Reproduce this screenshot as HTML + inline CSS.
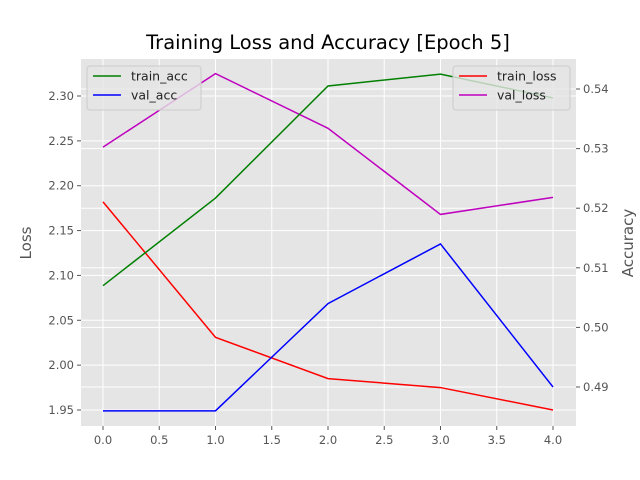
<!DOCTYPE html>
<html><head><meta charset="utf-8"><style>
body{margin:0;background:#fff;}
svg{display:block;font-family:"DejaVu Sans","Liberation Sans",sans-serif;}
</style></head><body>
<svg id="chart" width="640" height="480"></svg>
<script>
const epochs=[0,1,2,3,4];
const trainLoss=[2.182,2.031,1.985,1.975,1.95];
const valLoss=[2.243,2.325,2.264,2.168,2.187];
const trainAcc=[0.507,0.5217,0.5405,0.5425,0.5385];
const valAcc=[0.486,0.486,0.504,0.514,0.490];
const xTicks=[0,0.5,1,1.5,2,2.5,3,3.5,4];
const yLTicks=[1.95,2.0,2.05,2.1,2.15,2.2,2.25,2.3];
const yRTicks=[0.49,0.50,0.51,0.52,0.53,0.54];

const L=81,R=576,T=59,B=426;
const xs=v=>103+(v-0)*(553-103)/4;
const yl=v=>410-(v-1.95)*(410-96)/0.35;
const yr=v=>387-(v-0.49)*(387-89)/0.05;
const svg=document.getElementById('chart');
const NS='http://www.w3.org/2000/svg';
function mk(t,a,p){const e=document.createElementNS(NS,t);for(const k in a)e.setAttribute(k,a[k]);(p||svg).appendChild(e);return e;}

const bg=mk('rect',{x:L,y:T,width:R-L,height:B-T,fill:'#e5e5e5'});


xTicks.forEach(v=>{
  const g=mk('line',{x1:xs(v),x2:xs(v),y1:T,y2:B,stroke:'#fff','stroke-width':1});
  
  
  mk('line',{x1:xs(v),x2:xs(v),y1:B,y2:B+4,stroke:'#555'});
  const t=mk('text',{x:xs(v),y:B+18,'text-anchor':'middle','font-size':11.5,fill:'#555'});
  t.textContent=v.toFixed(1);
  
  
});
yLTicks.forEach(v=>{
  const g=mk('line',{x1:L,x2:R,y1:yl(v),y2:yl(v),stroke:'#fff','stroke-width':1});
  
  
  mk('line',{x1:L-4,x2:L,y1:yl(v),y2:yl(v),stroke:'#555'});
  const t=mk('text',{x:L-7,y:yl(v)+4,'text-anchor':'end','font-size':11.5,fill:'#555'});
  t.textContent=v.toFixed(2);
  
  
});
yRTicks.forEach(v=>{
  const g=mk('line',{x1:L,x2:R,y1:yr(v),y2:yr(v),stroke:'#fff','stroke-width':1});
  
  
  mk('line',{x1:R,x2:R+4,y1:yr(v),y2:yr(v),stroke:'#555'});
  const t=mk('text',{x:R+7,y:yr(v)+4,'text-anchor':'start','font-size':11.5,fill:'#555'});
  t.textContent=v.toFixed(2);
  
  
});
function line(vals,sc,color,name){
  const p=mk('polyline',{points:epochs.map((e,i)=>xs(e)+','+sc(vals[i])).join(' '),fill:'none',stroke:color,'stroke-width':1.5});
  
  
}
line(trainLoss,yl,'#ff0000','train-loss-line');
line(valLoss,yl,'#bf00bf','val-loss-line');
line(trainAcc,yr,'#008000','train-acc-line');
line(valAcc,yr,'#0000ff','val-acc-line');

function legend(x,y,w,items,name){
  const g=mk('g',{});
  
  
  mk('rect',{x:x,y:y,width:w,height:44,rx:3,fill:'#e5e5e5',stroke:'#ccc','fill-opacity':0.8},g);
  items.forEach((it,i)=>{
    const yy=y+10+i*19;
    mk('line',{x1:x+6,x2:x+34,y1:yy,y2:yy,stroke:it[1],'stroke-width':1.5},g);
    const t=mk('text',{x:x+44,y:yy+4.5,'font-size':12.5,fill:'#222'},g);
    t.textContent=it[0];
    
    
  });
}
legend(87,66,114,[['train_acc','#008000'],['val_acc','#0000ff']],'legend-accuracy');
legend(453,66,117,[['train_loss','#ff0000'],['val_loss','#bf00bf']],'legend-loss');

const title=mk('text',{x:328,y:49,'text-anchor':'middle','font-size':19.5,fill:'#000'});
title.textContent='Training Loss and Accuracy [Epoch 5]';


const yt=mk('text',{x:0,y:0,'text-anchor':'middle','font-size':15,fill:'#555',transform:'translate(31,243) rotate(-90)'});
yt.textContent='Loss';


const yt2=mk('text',{x:0,y:0,'text-anchor':'middle','font-size':15,fill:'#555',transform:'translate(633,243) rotate(-90)'});
yt2.textContent='Accuracy';


</script>
</body></html>
